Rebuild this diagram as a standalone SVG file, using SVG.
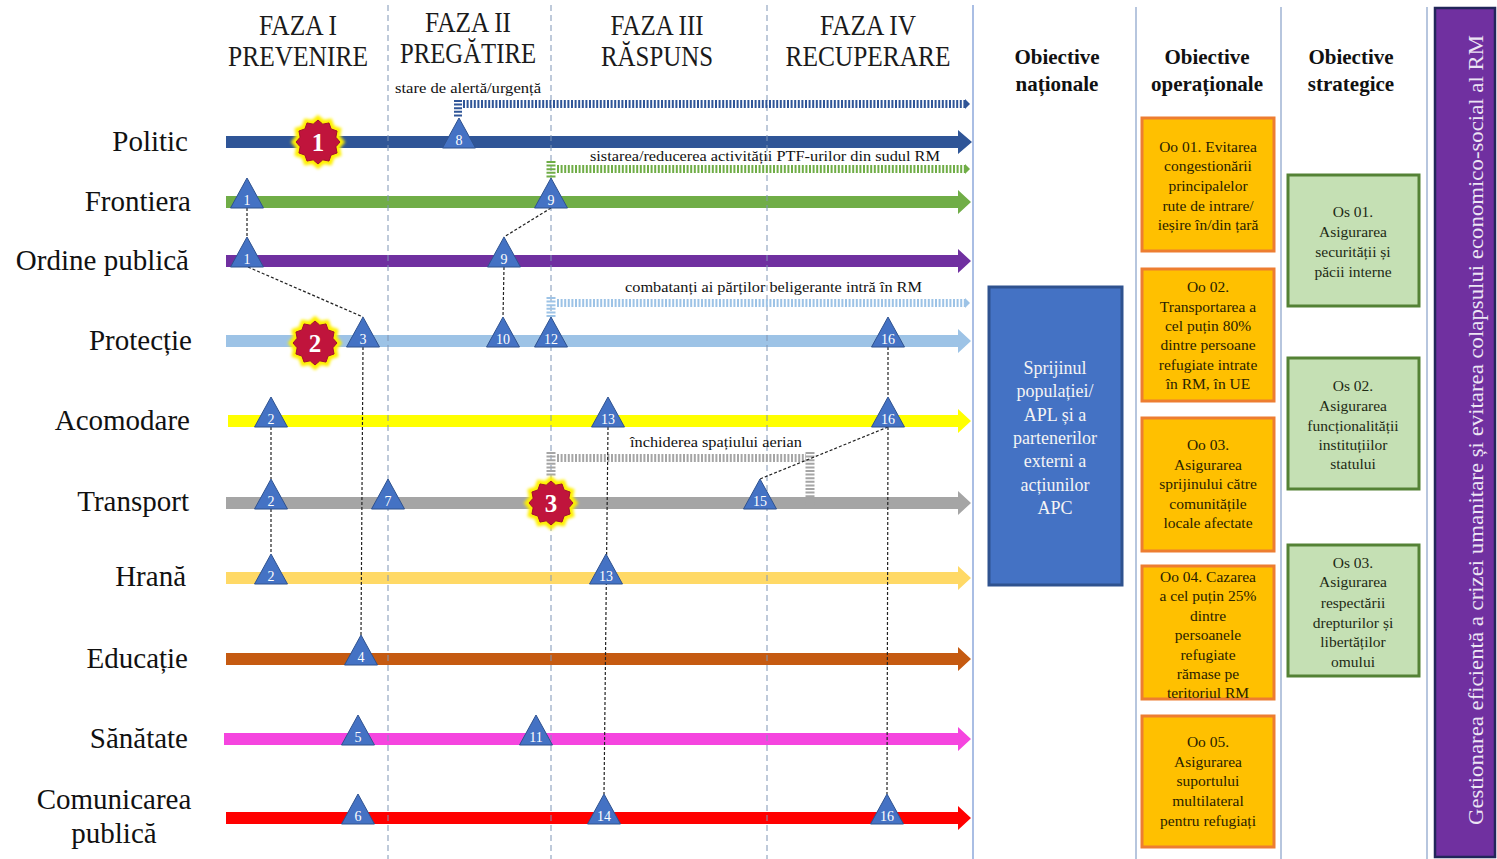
<svg xmlns="http://www.w3.org/2000/svg" xmlns:xlink="http://www.w3.org/1999/xlink" width="1497" height="859" viewBox="0 0 1497 859">
<style>
.hdr{font-family:"Liberation Serif","Times New Roman",serif;font-size:30px;fill:#1a1a1a;text-anchor:middle}
.lane{font-family:"Liberation Serif","Times New Roman",serif;font-size:29px;fill:#111;text-anchor:end}
.cap{font-family:"Liberation Serif","Times New Roman",serif;font-size:15px;fill:#111}
.tn{font-family:"Liberation Serif","Times New Roman",serif;font-size:14px;fill:#fff;text-anchor:middle}
.bn{font-family:"Liberation Serif","Times New Roman",serif;font-size:25px;font-weight:bold;fill:#fff;text-anchor:middle}
.colh{font-family:"Liberation Serif","Times New Roman",serif;font-size:21px;font-weight:bold;fill:#111;text-anchor:middle}
.bt{font-family:"Liberation Serif","Times New Roman",serif;font-size:15.5px;fill:#2a2200;text-anchor:middle}
.gt{font-family:"Liberation Serif","Times New Roman",serif;font-size:15.5px;fill:#1e2a14;text-anchor:middle}
.wt{font-family:"Liberation Serif","Times New Roman",serif;font-size:18px;fill:#f4f4f4;text-anchor:middle}
.phase{stroke:#7f95b5;stroke-width:1;stroke-dasharray:6 4;fill:none}
.sep{stroke:#9fb3d3;stroke-width:1.5;fill:none}
.conn{stroke:#222;stroke-width:1.2;stroke-dasharray:3 2;fill:none}
.tri{fill:#4472C4;stroke:#2F528F;stroke-width:1}
.orange{fill:#FFC000;stroke:#ED7D31;stroke-width:3}
.green{fill:#C5E0B4;stroke:#548235;stroke-width:3}
</style>
<defs>
<path id="tri" d="M0,-24 L16.5,6 L-16.5,6 Z"/>
<polygon id="star" points="0,-22 4.79,-17.87 11,-19.05 13.08,-13.08 19.05,-11 17.87,-4.79 22,0 17.87,4.79 19.05,11 13.08,13.08 11,19.05 4.79,17.87 0,22 -4.79,17.87 -11,19.05 -13.08,13.08 -19.05,11 -17.87,4.79 -22,0 -17.87,-4.79 -19.05,-11 -13.08,-13.08 -11,-19.05 -4.79,-17.87"/>
<filter id="glow" x="-30%" y="-30%" width="160%" height="160%"><feGaussianBlur stdDeviation="1.3"/></filter>
</defs>
<rect width="1497" height="859" fill="#ffffff"/>

<!-- phase headers -->
<g id="phase-headers">
<text class="hdr" x="298" y="35" textLength="78" lengthAdjust="spacingAndGlyphs">FAZA I</text>
<text class="hdr" x="298" y="66" textLength="140" lengthAdjust="spacingAndGlyphs">PREVENIRE</text>
<text class="hdr" x="468" y="32" textLength="86" lengthAdjust="spacingAndGlyphs">FAZA II</text>
<text class="hdr" x="468" y="63" textLength="136" lengthAdjust="spacingAndGlyphs">PREGĂTIRE</text>
<text class="hdr" x="657" y="35" textLength="93" lengthAdjust="spacingAndGlyphs">FAZA III</text>
<text class="hdr" x="657" y="66" textLength="112" lengthAdjust="spacingAndGlyphs">RĂSPUNS</text>
<text class="hdr" x="868" y="35" textLength="96" lengthAdjust="spacingAndGlyphs">FAZA IV</text>
<text class="hdr" x="868" y="66" textLength="165" lengthAdjust="spacingAndGlyphs">RECUPERARE</text>
</g>

<!-- lanes -->
<g id="lane-politic"><path d="M226,136 H958 V130 L972,142 L958,154 V148 H226 Z" fill="#2F5597"/><text class="lane" x="188" y="151">Politic</text></g>
<g id="lane-frontiera"><path d="M226,196 H958 V190 L971,202 L958,214 V208 H226 Z" fill="#70AD47"/><text class="lane" x="191" y="211">Frontiera</text></g>
<g id="lane-ordine"><path d="M226,255 H958 V249 L971,261 L958,273 V267 H226 Z" fill="#7030A0"/><text class="lane" x="189" y="270">Ordine publică</text></g>
<g id="lane-protectie"><path d="M226,335 H958 V329 L971,341 L958,353 V347 H226 Z" fill="#9DC3E6"/><text class="lane" x="192" y="350">Protecție</text></g>
<g id="lane-acomodare"><path d="M228,415 H958 V409 L971,421 L958,433 V427 H228 Z" fill="#FFFF00"/><text class="lane" x="190" y="430">Acomodare</text></g>
<g id="lane-transport"><path d="M226,497 H958 V491 L971,503 L958,515 V509 H226 Z" fill="#A5A5A5"/><text class="lane" x="189" y="511">Transport</text></g>
<g id="lane-hrana"><path d="M226,572 H958 V566 L971,578 L958,590 V584 H226 Z" fill="#FFD966"/><text class="lane" x="186" y="586">Hrană</text></g>
<g id="lane-educatie"><path d="M226,653 H958 V647 L971,659 L958,671 V665 H226 Z" fill="#C55A11"/><text class="lane" x="188" y="668">Educație</text></g>
<g id="lane-sanatate"><path d="M224,733 H958 V727 L971,739 L958,751 V745 H224 Z" fill="#F545DF"/><text class="lane" x="188" y="748">Sănătate</text></g>
<g id="lane-comunicare"><path d="M226,812 H958 V806 L971,818 L958,830 V824 H226 Z" fill="#FF0000"/><text class="lane" x="114" y="809" style="text-anchor:middle">Comunicarea</text><text class="lane" x="114" y="843" style="text-anchor:middle">publică</text></g>

<!-- phase separators and column separators -->
<g id="grid">
<line class="phase" x1="388" y1="5" x2="388" y2="859"/>
<line class="phase" x1="551" y1="5" x2="551" y2="859"/>
<line class="phase" x1="767" y1="5" x2="767" y2="859"/>
<line class="sep" x1="973" y1="5" x2="973" y2="859" style="stroke:#8EA9DB"/>
<line class="sep" x1="1136" y1="7" x2="1136" y2="859"/>
<line class="sep" x1="1281" y1="7" x2="1281" y2="859"/>
<line class="sep" x1="1427" y1="7" x2="1427" y2="859"/>
</g>

<!-- striped event bars -->
<g id="event-alerta">
<text class="cap" x="395" y="93" style="font-size:14px" textLength="146" lengthAdjust="spacingAndGlyphs">stare de alertă/urgență</text>
<line x1="458" y1="100" x2="458" y2="118" stroke="#2F5597" stroke-width="8" stroke-dasharray="2 1.6"/>
<line x1="463" y1="104" x2="965" y2="104" stroke="#2F5597" stroke-width="8" stroke-dasharray="2 1.6"/>
<path d="M965,99 L970,104 L965,109 Z" fill="#2F5597"/>
</g>
<g id="event-ptf">
<text class="cap" x="590" y="161" textLength="350" lengthAdjust="spacingAndGlyphs">sistarea/reducerea activității PTF-urilor  din sudul RM</text>
<line x1="551" y1="161" x2="551" y2="179" stroke="#70AD47" stroke-width="9" stroke-dasharray="2 1.6"/>
<line x1="557" y1="169" x2="965" y2="169" stroke="#70AD47" stroke-width="8" stroke-dasharray="2 1.6"/>
<path d="M965,164 L970,169 L965,174 Z" fill="#70AD47"/>
</g>
<g id="event-combatanti">
<text class="cap" x="625" y="292" textLength="297" lengthAdjust="spacingAndGlyphs">combatanți ai părților beligerante intră în RM</text>
<line x1="551" y1="297" x2="551" y2="318" stroke="#9DC3E6" stroke-width="9" stroke-dasharray="2 1.6"/>
<line x1="557" y1="303" x2="965" y2="303" stroke="#9DC3E6" stroke-width="8" stroke-dasharray="2 1.6"/>
<path d="M965,298 L970,303 L965,308 Z" fill="#9DC3E6"/>
</g>
<g id="event-spatiu">
<text class="cap" x="630" y="447" textLength="172" lengthAdjust="spacingAndGlyphs">închiderea spațiului aerian</text>
<line x1="551" y1="452" x2="551" y2="477" stroke="#A5A5A5" stroke-width="9" stroke-dasharray="2 1.6"/>
<line x1="557" y1="458" x2="806" y2="458" stroke="#A5A5A5" stroke-width="8" stroke-dasharray="2 1.6"/>
<line x1="810" y1="452" x2="810" y2="509" stroke="#A5A5A5" stroke-width="9" stroke-dasharray="2 1.6"/>
</g>

<!-- connectors -->
<g id="connectors">
<line class="conn" x1="247" y1="208" x2="247" y2="237"/>
<line class="conn" x1="248" y1="267" x2="363" y2="317"/>
<line class="conn" x1="551" y1="208" x2="504" y2="237"/>
<line class="conn" x1="504" y1="267" x2="503" y2="317"/>
<line class="conn" x1="363" y1="347" x2="361" y2="635"/>
<line class="conn" x1="888" y1="347" x2="888" y2="397"/>
<line class="conn" x1="888" y1="427" x2="887" y2="794"/>
<line class="conn" x1="888" y1="427" x2="760" y2="479"/>
<line class="conn" x1="608" y1="427" x2="604" y2="794"/>
<line class="conn" x1="271" y1="427" x2="271" y2="479"/>
<line class="conn" x1="271" y1="509" x2="271" y2="554"/>
</g>

<!-- milestone triangles -->
<g id="m8" transform="translate(459,142)"><use href="#tri" class="tri"/><text class="tn" y="3">8</text></g>
<g id="m1-frontiera" transform="translate(247,202)"><use href="#tri" class="tri"/><text class="tn" y="3">1</text></g>
<g id="m9-frontiera" transform="translate(551,202)"><use href="#tri" class="tri"/><text class="tn" y="3">9</text></g>
<g id="m1-ordine" transform="translate(247,261)"><use href="#tri" class="tri"/><text class="tn" y="3">1</text></g>
<g id="m9-ordine" transform="translate(504,261)"><use href="#tri" class="tri"/><text class="tn" y="3">9</text></g>
<g id="m3" transform="translate(363,341)"><use href="#tri" class="tri"/><text class="tn" y="3">3</text></g>
<g id="m10" transform="translate(503,341)"><use href="#tri" class="tri"/><text class="tn" y="3">10</text></g>
<g id="m12" transform="translate(551,341)"><use href="#tri" class="tri"/><text class="tn" y="3">12</text></g>
<g id="m16-protectie" transform="translate(888,341)"><use href="#tri" class="tri"/><text class="tn" y="3">16</text></g>
<g id="m2-acomodare" transform="translate(271,421)"><use href="#tri" class="tri"/><text class="tn" y="3">2</text></g>
<g id="m13-acomodare" transform="translate(608,421)"><use href="#tri" class="tri"/><text class="tn" y="3">13</text></g>
<g id="m16-acomodare" transform="translate(888,421)"><use href="#tri" class="tri"/><text class="tn" y="3">16</text></g>
<g id="m2-transport" transform="translate(271,503)"><use href="#tri" class="tri"/><text class="tn" y="3">2</text></g>
<g id="m7" transform="translate(388,503)"><use href="#tri" class="tri"/><text class="tn" y="3">7</text></g>
<g id="m15" transform="translate(760,503)"><use href="#tri" class="tri"/><text class="tn" y="3">15</text></g>
<g id="m2-hrana" transform="translate(271,578)"><use href="#tri" class="tri"/><text class="tn" y="3">2</text></g>
<g id="m13-hrana" transform="translate(606,578)"><use href="#tri" class="tri"/><text class="tn" y="3">13</text></g>
<g id="m4" transform="translate(361,659)"><use href="#tri" class="tri"/><text class="tn" y="3">4</text></g>
<g id="m5" transform="translate(358,739)"><use href="#tri" class="tri"/><text class="tn" y="3">5</text></g>
<g id="m11" transform="translate(536,739)"><use href="#tri" class="tri"/><text class="tn" y="3">11</text></g>
<g id="m6" transform="translate(358,818)"><use href="#tri" class="tri"/><text class="tn" y="3">6</text></g>
<g id="m14" transform="translate(604,818)"><use href="#tri" class="tri"/><text class="tn" y="3">14</text></g>
<g id="m16-comunicare" transform="translate(887,818)"><use href="#tri" class="tri"/><text class="tn" y="3">16</text></g>

<!-- badges -->
<g id="badge-1" transform="translate(318,142)"><use href="#star" fill="#FFF000" transform="scale(1.24)" filter="url(#glow)"/><use href="#star" fill="#C0143C" stroke="#A00F2E" stroke-width="1"/><text class="bn" y="9">1</text></g>
<g id="badge-2" transform="translate(315,343)"><use href="#star" fill="#FFF000" transform="scale(1.24)" filter="url(#glow)"/><use href="#star" fill="#C0143C" stroke="#A00F2E" stroke-width="1"/><text class="bn" y="9">2</text></g>
<g id="badge-3" transform="translate(551,503)"><use href="#star" fill="#FFF000" transform="scale(1.24)" filter="url(#glow)"/><use href="#star" fill="#C0143C" stroke="#A00F2E" stroke-width="1"/><text class="bn" y="9">3</text></g>

<!-- column headers -->
<g id="col-headers">
<text class="colh" x="1057" y="64">Obiective</text>
<text class="colh" x="1057" y="91">naționale</text>
<text class="colh" x="1207" y="64">Obiective</text>
<text class="colh" x="1207" y="91">operaționale</text>
<text class="colh" x="1351" y="64">Obiective</text>
<text class="colh" x="1351" y="91">strategice</text>
</g>

<!-- national objective -->
<g id="on-1">
<rect x="989" y="287" width="133" height="298" fill="#4472C4" stroke="#2F528F" stroke-width="3"/>
<text class="wt" x="1055" y="374">Sprijinul</text>
<text class="wt" x="1055" y="397">populației/</text>
<text class="wt" x="1055" y="421">APL  și a</text>
<text class="wt" x="1055" y="444">partenerilor</text>
<text class="wt" x="1055" y="467">externi  a</text>
<text class="wt" x="1055" y="491">acțiunilor</text>
<text class="wt" x="1055" y="514">APC</text>
</g>

<!-- operational objectives -->
<g id="oo-01">
<rect class="orange" x="1142" y="118" width="132" height="133"/>
<text class="bt" x="1208" y="152">Oo 01. Evitarea</text>
<text class="bt" x="1208" y="171">congestionării</text>
<text class="bt" x="1208" y="191">principalelor</text>
<text class="bt" x="1208" y="211">rute de intrare/</text>
<text class="bt" x="1208" y="230">ieșire în/din țară</text>
</g>
<g id="oo-02">
<rect class="orange" x="1142" y="269" width="132" height="132"/>
<text class="bt" x="1208" y="292">Oo 02.</text>
<text class="bt" x="1208" y="312">Transportarea a</text>
<text class="bt" x="1208" y="331">cel puțin 80%</text>
<text class="bt" x="1208" y="350">dintre persoane</text>
<text class="bt" x="1208" y="370">refugiate intrate</text>
<text class="bt" x="1208" y="389">în RM, în UE</text>
</g>
<g id="oo-03">
<rect class="orange" x="1142" y="418" width="132" height="133"/>
<text class="bt" x="1208" y="450">Oo 03.</text>
<text class="bt" x="1208" y="470">Asigurarea</text>
<text class="bt" x="1208" y="489">sprijinului  către</text>
<text class="bt" x="1208" y="509">comunitățile</text>
<text class="bt" x="1208" y="528">locale  afectate</text>
</g>
<g id="oo-04">
<rect class="orange" x="1142" y="566" width="132" height="133"/>
<text class="bt" x="1208" y="582">Oo 04.  Cazarea</text>
<text class="bt" x="1208" y="601">a cel puțin 25%</text>
<text class="bt" x="1208" y="621">dintre</text>
<text class="bt" x="1208" y="640">persoanele</text>
<text class="bt" x="1208" y="660">refugiate</text>
<text class="bt" x="1208" y="679">rămase pe</text>
<text class="bt" x="1208" y="698">teritoriul  RM</text>
</g>
<g id="oo-05">
<rect class="orange" x="1142" y="716" width="132" height="131"/>
<text class="bt" x="1208" y="747">Oo 05.</text>
<text class="bt" x="1208" y="767">Asigurarea</text>
<text class="bt" x="1208" y="786">suportului</text>
<text class="bt" x="1208" y="806">multilateral</text>
<text class="bt" x="1208" y="826">pentru refugiați</text>
</g>

<!-- strategic objectives -->
<g id="os-01">
<rect class="green" x="1288" y="175" width="131" height="131"/>
<text class="gt" x="1353" y="217">Os 01.</text>
<text class="gt" x="1353" y="237">Asigurarea</text>
<text class="gt" x="1353" y="257">securității  și</text>
<text class="gt" x="1353" y="277">păcii interne</text>
</g>
<g id="os-02">
<rect class="green" x="1288" y="358" width="131" height="131"/>
<text class="gt" x="1353" y="391">Os 02.</text>
<text class="gt" x="1353" y="411">Asigurarea</text>
<text class="gt" x="1353" y="431">funcționalității</text>
<text class="gt" x="1353" y="450">instituțiilor</text>
<text class="gt" x="1353" y="469">statului</text>
</g>
<g id="os-03">
<rect class="green" x="1288" y="545" width="131" height="131"/>
<text class="gt" x="1353" y="568">Os 03.</text>
<text class="gt" x="1353" y="587">Asigurarea</text>
<text class="gt" x="1353" y="608">respectării</text>
<text class="gt" x="1353" y="628">drepturilor  și</text>
<text class="gt" x="1353" y="647">libertăților</text>
<text class="gt" x="1353" y="667">omului</text>
</g>

<!-- overall goal -->
<g id="goal">
<rect x="1435" y="8" width="60" height="849" fill="#7030A0" stroke="#22265A" stroke-width="2.5"/>
<text x="0" y="0" transform="translate(1483,430) rotate(-90)" style="font-family:'Liberation Serif','Times New Roman',serif;font-size:21px;fill:#ece4f4;text-anchor:middle" textLength="790" lengthAdjust="spacingAndGlyphs">Gestionarea eficientă  a crizei umanitare și evitarea colapsului economico-social al RM</text>
</g>
</svg>
